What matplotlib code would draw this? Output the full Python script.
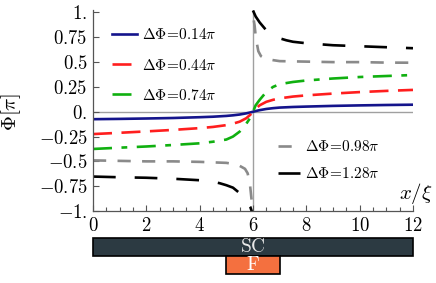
import matplotlib
matplotlib.use("Agg")
import matplotlib.pyplot as plt
from matplotlib.patches import Rectangle

plt.rcParams['mathtext.fontset'] = 'cm'
plt.rcParams['font.family'] = 'serif'
plt.rcParams['font.serif'] = ['DejaVu Serif']

# phase profiles Phi(x) in units of pi, x in units of xi
x_smooth = [0, 1, 2, 3, 4, 4.5, 5, 5.25, 5.5, 5.75, 5.9, 6,
            6.1, 6.25, 6.5, 6.75, 7, 7.5, 8, 9, 10, 11, 12]
phi_014 = [-0.075, -0.072, -0.068, -0.063, -0.055, -0.05, -0.042, -0.036, -0.028, -0.016, -0.007, 0,
           0.007, 0.016, 0.028, 0.036, 0.042, 0.048, 0.052, 0.059, 0.064, 0.068, 0.071]
phi_044 = [-0.225, -0.212, -0.198, -0.183, -0.165, -0.153, -0.135, -0.12, -0.1, -0.065, -0.03, 0,
           0.03, 0.065, 0.1, 0.12, 0.135, 0.153, 0.165, 0.183, 0.198, 0.21, 0.22]
phi_074 = [-0.375, -0.362, -0.35, -0.335, -0.318, -0.302, -0.28, -0.25, -0.2, -0.12, -0.06, 0,
           0.065, 0.12, 0.2, 0.25, 0.278, 0.3, 0.315, 0.335, 0.35, 0.36, 0.37]

# the two branches with a jump at x = 6
x_left = [0, 1, 2, 3, 4, 4.5, 5, 5.25, 5.5, 5.7, 5.8, 5.89, 5.94, 5.98]
x_right = [6.03, 6.06, 6.11, 6.2, 6.3, 6.45, 6.75, 7, 8, 9, 10, 11, 12]
phi_098_left = [-0.49, -0.495, -0.5, -0.5, -0.505, -0.51, -0.515, -0.525, -0.545, -0.575, -0.62, -0.74, -0.87, -0.95]
phi_098_right = [0.92, 0.87, 0.74, 0.61, 0.56, 0.535, 0.52, 0.51, 0.505, 0.5, 0.5, 0.495, 0.494]

xb_left = [0, 1, 2, 3, 4, 4.5, 4.75, 5, 5.25, 5.5, 5.75, 5.9, 5.95, 6.0]
xb_right = [6.0, 6.1, 6.25, 6.5, 6.75, 7, 7.25, 7.5, 8, 9, 10, 11, 12]
phi_128_left = [-0.653, -0.66, -0.665, -0.675, -0.69, -0.705, -0.72, -0.74, -0.765, -0.82, -0.9, -0.96, -1.0, -1.03]
phi_128_right = [1.02, 0.96, 0.9, 0.82, 0.765, 0.74, 0.72, 0.705, 0.69, 0.67, 0.66, 0.65, 0.64]

yticks = [-1, -0.75, -0.5, -0.25, 0, 0.25, 0.5, 0.75, 1]
ytick_labels = ['$-1.$', '$-0.75$', '$-0.5$', '$-0.25$', '$0.$', '$0.25$', '$0.5$', '$0.75$', '$1.$']
xticks = [0, 2, 4, 6, 8, 10, 12]

sc_span = (0, 12)
f_span = (5, 7)

fig = plt.figure(figsize=(4.36, 2.83), dpi=100)
ax = fig.add_axes([0.2133, 0.2544, 0.7339, 0.712])

ax.axhline(0, color='#a0a0a0', lw=1.0, zorder=1)
ax.axvline(6, color='#a0a0a0', lw=1.0, zorder=1)

l1, = ax.plot(x_smooth, phi_014, color='#14148c', lw=1.9)
l2, = ax.plot(x_smooth, phi_044, color='#ff1e1e', lw=1.9, dashes=(7.2, 3.6))
l3, = ax.plot(x_smooth, phi_074, color='#10b010', lw=1.9, dashes=(7.2, 3.6, 2.2, 3.6))
l4, = ax.plot(x_left, phi_098_left, color='#8a8a8a', lw=1.9, dashes=(5, 4.3))
ax.plot(x_right, phi_098_right, color='#8a8a8a', lw=1.9, dashes=(5, 4.3))
l5, = ax.plot(xb_left, phi_128_left, color='black', lw=1.9, dashes=(8.6, 7.2))
ax.plot(xb_right, phi_128_right, color='black', lw=1.9, dashes=(8.6, 7.2))
for ln in ax.get_lines():
    ln.set_dash_capstyle('butt')

ax.set_xlim(0, 12)
ax.set_ylim(-1, 1.03)
for s in ['top', 'right']:
    ax.spines[s].set_visible(False)
for s in ['left', 'bottom']:
    ax.spines[s].set_color('#555555')
    ax.spines[s].set_linewidth(0.9)

ax.set_yticks(yticks)
ax.set_yticklabels(ytick_labels, fontsize=13.5)
ax.set_xticks(xticks)
ax.set_xticklabels(['$%d$' % v for v in xticks], fontsize=13.5)
ax.set_xticks([v * 0.5 for v in range(25)], minor=True)
ax.tick_params(direction='in', length=4, width=0.8, color='#555555', pad=4)
ax.tick_params(which='minor', direction='in', length=3, width=0.8, color='#555555')

fig.text(0.025, 0.605, r'$\Phi[\pi]$', rotation=90, fontsize=15, ha='center', va='center')
ax.text(1.062, 0.025, r'$x/\xi$', transform=ax.transAxes, fontsize=15, ha='right', va='bottom')

labels1 = [r'$\Delta\Phi\!=\!0.14\pi$', r'$\Delta\Phi\!=\!0.44\pi$', r'$\Delta\Phi\!=\!0.74\pi$']
labels2 = [r'$\Delta\Phi\!=\!0.98\pi$', r'$\Delta\Phi\!=\!1.28\pi$']

leg1 = ax.legend([l1, l2, l3], labels1,
                 loc='upper left', bbox_to_anchor=(0.036, 0.95), frameon=False, fontsize=11,
                 handlelength=1.65, handletextpad=0.3, labelspacing=1.0, borderpad=0)
ax.add_artist(leg1)
ax.legend([l4, l5], labels2,
          loc='upper left', bbox_to_anchor=(0.555, 0.395), frameon=False, fontsize=11,
          handlelength=1.45, handletextpad=0.3, labelspacing=0.8, borderpad=0)

# junction sketch below the axis
bx = fig.add_axes([0.2133, 0.0318, 0.7339, 0.1284])
bx.set_xlim(0, 12)
bx.set_ylim(0, 2)
bx.axis('off')
bx.add_patch(Rectangle((sc_span[0], 1), sc_span[1] - sc_span[0], 1, facecolor='#2c3a42',
                       edgecolor='black', lw=1.2, clip_on=False))
bx.add_patch(Rectangle((f_span[0], 0), f_span[1] - f_span[0], 1, facecolor='#f4703f',
                       edgecolor='black', lw=1.2, clip_on=False))
bx.text(6, 1.5, r'$\mathrm{SC}$', color='#e8e8e8', fontsize=14, ha='center', va='center')
bx.text(6, 0.5, r'$\mathrm{F}$', color='white', fontsize=14, ha='center', va='center')

fig.savefig('out.png', dpi=100)
